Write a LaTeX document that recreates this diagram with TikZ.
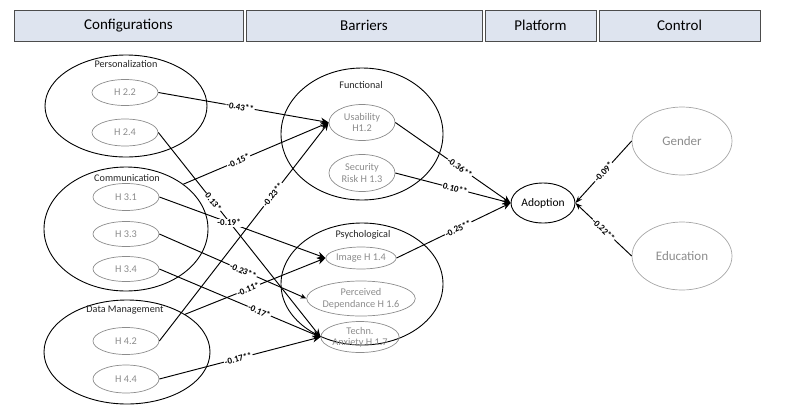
\documentclass[tikz,border=0pt]{standalone}
\usepackage{fontspec}
\setmainfont{Carlito}
\usetikzlibrary{shapes.geometric,arrows.meta}
\definecolor{hdr}{HTML}{DEE4EF}
\definecolor{ingray}{HTML}{8C8C8C}
\definecolor{ctrlgray}{HTML}{A6A6A6}
\begin{document}
\begin{tikzpicture}[x=1pt,y=-1pt,
  hdrbox/.style={draw=black!70, fill=hdr, minimum height=31pt, inner sep=0pt, line width=0.8pt, font=\fontsize{15}{17}\selectfont},
  outer/.style={draw=black, ellipse, inner sep=0pt, line width=0.9pt},
  inner/.style={draw=ingray, ellipse, inner sep=0pt, text=ingray, align=center, line width=0.7pt, font=\fontsize{10.3}{11.5}\selectfont},
  ctrl/.style={draw=ctrlgray, ellipse, inner sep=0pt, text=ingray, line width=0.7pt, minimum width=100pt, minimum height=68pt, font=\fontsize{13}{15}\selectfont},
  grp/.style={inner sep=0pt, text=black!85, font=\fontsize{10.2}{12}\selectfont},
  conn/.style={draw, line width=0.95pt},
  arr/.style={conn, -{Stealth[length=8pt,width=7pt]}},
  sarr/.style={conn, -{Stealth[length=6pt,width=5pt]}},
  carr/.style={conn, -{Stealth[length=7pt,width=5pt]}},
  lbl/.style={fill=white, inner sep=0.8pt, font=\bfseries\fontsize{9}{10}\selectfont},
  slbl/.style={lbl, sloped}
]
\useasboundingbox (0,0) rectangle (790,413);

% headers
\node[hdrbox, minimum width=229pt] (hconf) at (128.5,25.5) {Configurations};
\node[hdrbox, minimum width=236pt] (hbar) at (364,25.5) {Barriers};
\node[hdrbox, minimum width=111pt] (hplat) at (540.5,25.5) {Platform};
\node[hdrbox, minimum width=161pt] (hctrl) at (679.5,25.5) {Control};

% configuration groups
\node[outer, minimum width=162pt, minimum height=102pt] (pers) at (126,106) {};
\node[grp] (perslbl) at (126,64) {Personalization};
\node[inner, minimum width=66pt, minimum height=26pt] (h22) at (125,92.5) {H 2.2};
\node[inner, minimum width=66pt, minimum height=27pt] (h24) at (125,132.5) {H 2.4};

\node[outer, minimum width=164pt, minimum height=124pt] (comm) at (126,229) {};
\node[grp] (commlbl) at (127,178) {Communication};
\node[inner, minimum width=66pt, minimum height=27pt] (h31) at (126,197) {H 3.1};
\node[inner, minimum width=66pt, minimum height=25pt] (h33) at (126,234) {H 3.3};
\node[inner, minimum width=66pt, minimum height=25pt] (h34) at (126,269) {H 3.4};

\node[outer, minimum width=166pt, minimum height=104pt] (dm) at (127,352) {};
\node[grp] (dmlbl) at (125,310) {Data Management};
\node[inner, minimum width=66pt, minimum height=27pt] (h42) at (126,341) {H 4.2};
\node[inner, minimum width=66pt, minimum height=28pt] (h44) at (126,379) {H 4.4};

% barrier groups
\node[outer, minimum width=162pt, minimum height=132pt] (func) at (362,134) {};
\node[grp] (funclbl) at (361,85) {Functional};
\node[inner, minimum width=66pt, minimum height=36pt] (usab) at (362,122.5) {Usability\\H1.2};
\node[inner, minimum width=66pt, minimum height=37pt] (secr) at (362,173) {Security\\Risk H 1.3};

\node[outer, minimum width=162pt, minimum height=122pt] (psy) at (362,284) {};
\node[grp] (psylbl) at (363,235) {Psychological};
\node[inner, minimum width=60pt, minimum height=22pt] (img) at (361,258) {Image H 1.4};
\node[inner, minimum width=92pt, minimum height=35pt] (perc) at (361,298.5) {Perceived\\Dependance H 1.6};
\node[inner, minimum width=60pt, minimum height=31pt] (tech) at (360,337) {Techn.\\Anxiety H 1.7};

% platform
\node[ellipse, draw=black, line width=0.9pt, inner sep=0pt, minimum width=64pt, minimum height=40pt, font=\fontsize{11.5}{13}\selectfont] (adop) at (543,203) {Adoption};

% control
\node[ctrl] (gend) at (682,141) {Gender};
\node[ctrl] (educ) at (682,256) {Education};

% connectors
\draw[arr] (h22.east) -- node[slbl, pos=0.48] {-0.43**} (usab.west);
\draw[arr] (comm.38) -- node[slbl, pos=0.38] {-0.15*} (usab.west);
\draw[arr] (h24.east) -- node[slbl, pos=0.34] {0.13*} (tech.west);
\draw[arr] (h31.east) -- node[lbl, pos=0.42] {-0.19*} (img.west);
\draw[arr] (h42.east) -- node[slbl, pos=0.67] {-0.23**} (usab.west);
\draw[sarr] (h33.east) -- node[slbl, pos=0.57] {-0.23**} (perc.west);
\draw[arr] (dm.33) -- node[slbl, pos=0.45] {-0.11*} (img.west);
\draw[arr] (h34.east) -- node[slbl, pos=0.62] {-0.17*} (tech.west);
\draw[arr] (h44.east) -- node[slbl, pos=0.49] {-0.17**} (tech.west);

\draw[arr] (usab.east) -- node[slbl, pos=0.56] {-0.36**} (adop.west);
\draw[arr] (secr.east) -- node[slbl, pos=0.52] {0.10**} (adop.west);
\draw[arr] (img.east) -- node[slbl, pos=0.54] {-0.25**} (adop.west);

\draw[carr] (gend.west) -- node[slbl, pos=0.5] {-0.09*} (adop.east);
\draw[carr] (educ.west) -- node[slbl, pos=0.5] {-0.22**} (adop.east);
\end{tikzpicture}
\end{document}
